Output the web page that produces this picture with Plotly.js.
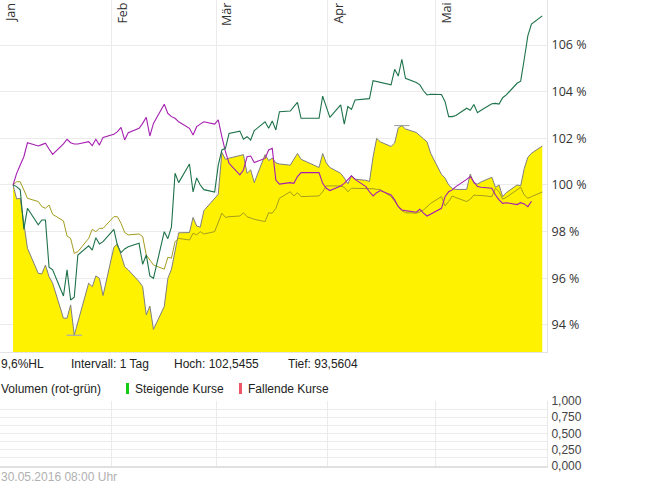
<!DOCTYPE html>
<html>
<head>
<meta charset="utf-8">
<script src="https://cdn.plot.ly/plotly-3.0.1.min.js"></script>
<style>
  html, body { margin: 0; padding: 0; background: #fff; }
  #chart { width: 645px; height: 483px; }
</style>
</head>
<body>
<div id="chart"></div>
<script>
// trading days Jan 4 - May 30 2016
const DAYS = [
  '2016-01-04','2016-01-05','2016-01-06','2016-01-07','2016-01-08','2016-01-11','2016-01-12','2016-01-13','2016-01-14','2016-01-15',
  '2016-01-18','2016-01-19','2016-01-20','2016-01-21','2016-01-22','2016-01-25','2016-01-26','2016-01-27','2016-01-28','2016-01-29',
  '2016-02-01','2016-02-02','2016-02-03','2016-02-04','2016-02-05','2016-02-08','2016-02-09','2016-02-10','2016-02-11','2016-02-12',
  '2016-02-15','2016-02-16','2016-02-17','2016-02-18','2016-02-19','2016-02-22','2016-02-23','2016-02-24','2016-02-25','2016-02-26','2016-02-29',
  '2016-03-01','2016-03-02','2016-03-03','2016-03-04','2016-03-07','2016-03-08','2016-03-09','2016-03-10','2016-03-11',
  '2016-03-14','2016-03-15','2016-03-16','2016-03-17','2016-03-18','2016-03-21','2016-03-22','2016-03-23','2016-03-24','2016-03-29','2016-03-30','2016-03-31',
  '2016-04-01','2016-04-04','2016-04-05','2016-04-06','2016-04-07','2016-04-08','2016-04-11','2016-04-12','2016-04-13','2016-04-14','2016-04-15',
  '2016-04-18','2016-04-19','2016-04-20','2016-04-21','2016-04-22','2016-04-25','2016-04-26','2016-04-27','2016-04-28','2016-04-29',
  '2016-05-02','2016-05-03','2016-05-04','2016-05-05','2016-05-06','2016-05-09','2016-05-10','2016-05-11','2016-05-12','2016-05-13',
  '2016-05-16','2016-05-17','2016-05-18','2016-05-19','2016-05-20','2016-05-23','2016-05-24','2016-05-25','2016-05-26','2016-05-27','2016-05-30'
];

// main series (yellow area), in % of start
const KURS = [
  100.00, 99.40, 99.43, 98.35, 97.29, 96.21, 96.19, 96.57, 96.07, 95.79, 94.29, 94.29, 94.86, 93.5604, 94.14, 95.79, 95.64, 96.10, 96.00, 95.26,
  97.33, 97.47, 97.00, 96.50, 96.36, 95.86, 95.64, 94.43, 94.81, 93.81, 94.79, 96.00, 96.39, 97.20, 97.95, 97.96, 98.61, 98.24, 98.19, 98.90, 99.40,
  99.60, 101.40, 101.10, 101.15, 101.25, 101.30, 100.50, 100.65, 100.10, 101.30, 101.05, 101.15, 100.95, 100.90, 100.85, 101.10, 101.35, 101.10, 100.75, 101.35, 100.95,
  100.75, 100.50, 100.30, 100.05, 100.40, 100.25, 100.20, 100.15, 101.20, 102.00, 101.85, 101.65, 101.80, 102.45, 102.5455, 102.40, 102.25, 102.10, 101.98, 101.85, 101.36,
  100.45, 100.30, 100.00, 99.85, 99.81, 99.81, 100.47, 100.07, 100.04, 100.13, 100.33, 99.90, 100.00, 99.50, 99.67, 100.00, 99.96, 100.71, 101.19, 101.36, 101.67
];

const GRUEN = [
  100.00, 99.93, 99.79, 98.10, 99.00, 98.29, 98.50, 98.50, 96.47, 96.36, 95.24, 96.36, 95.07, 95.19, 97.00, 97.39, 97.21, 97.74, 97.47, 97.57,
  98.10, 97.40, 97.10, 97.26, 97.35, 97.50, 96.60, 97.00, 96.10, 96.00, 98.00, 97.70, 98.20, 100.50, 100.10, 100.90, 99.70, 100.30, 100.00, 99.80, 99.70,
  100.85, 101.50, 101.57, 102.21, 102.31, 101.96, 102.07, 101.93, 102.33, 102.71, 102.43, 102.74, 102.36, 103.14, 103.17, 103.36, 103.54, 102.86, 102.86, 103.81, 103.36,
  102.90, 103.43, 102.61, 103.36, 103.24, 103.64, 103.67, 103.70, 104.47, 104.43, 104.39, 104.29, 104.96, 104.67, 105.39, 104.57, 104.39, 104.29, 104.04, 103.86, 103.89,
  103.88, 103.57, 102.93, 102.93, 102.98, 103.29, 103.20, 103.45, 103.10, 103.20, 103.48, 103.50, 103.47, 103.74, 103.86, 104.36, 104.45, 105.40, 106.40, 106.90, 107.25
];

const LILA = [
  100.00, 100.50, 100.86, 101.21, 101.81, 101.67, 101.73, 101.79, 101.54, 101.31, 101.76, 101.96, 101.81, 101.76, 101.76, 101.86, 101.69, 101.96, 101.71, 102.04,
  102.17, 102.29, 102.47, 101.93, 102.24, 102.43, 102.64, 102.90, 102.10, 102.64, 103.46, 103.07, 102.93, 102.86, 102.71, 102.43, 102.14, 102.50, 102.61, 102.71, 102.61,
  102.79, 102.07, 101.43, 100.93, 100.43, 100.64, 101.21, 101.24, 100.96, 101.14, 101.50, 101.57, 100.21, 100.04, 100.10, 100.07, 100.36, 100.53, 100.53, 100.07, 99.86,
  99.76, 99.96, 100.07, 100.24, 100.39, 100.24, 99.93, 99.71, 99.53, 99.67, 99.76, 99.57, 99.36, 99.07, 98.93, 98.90, 98.83, 98.96, 98.79, 98.67, 98.76,
  99.00, 99.50, 99.71, 99.79, 99.93, 100.24, 100.36, 100.14, 99.93, 99.90, 99.86, 99.57, 99.36, 99.21, 99.24, 99.16, 99.24, 99.19, 99.07, 99.30, null
];

const OLIV = [
  100.00, 100.14, 100.14, 99.79, 99.43, 99.29, 99.07, 99.00, 99.14, 98.74, 98.46, 97.81, 97.71, 97.07, 97.14, 97.71, 98.10, 98.00, 98.14, 98.14,
  98.64, 98.64, 98.36, 97.96, 97.86, 97.90, 97.79, 97.00, 96.79, 96.57, 96.39, 96.90, 96.86, 97.57, 97.71, 97.64, 97.93, 97.86, 98.00, 97.90, 98.00,
  98.40, 98.79, 98.61, 98.64, 98.67, 98.81, 98.64, 98.57, 98.53, 98.43, 98.81, 98.79, 99.00, 99.43, 99.71, 99.53, 99.67, 99.50, 99.53, 99.71, 99.96,
  99.96, 99.96, 99.90, 99.71, 99.86, 99.86, 99.86, 99.86, 99.84, 99.81, 99.81, 99.50, 99.29, 99.07, 98.90, 98.81, 98.79, 98.85, 98.93, 99.07, 99.21,
  99.50, 99.10, 99.29, 99.53, 99.46, 99.29, 99.39, 99.57, 99.55, 99.55, 99.50, 99.86, 99.71, 99.39, 99.47, 99.79, 99.90, 99.57, 99.43, 99.50, 99.70
];

const MONTHS = ['2016-01-01', '2016-02-01', '2016-03-01', '2016-04-01', '2016-05-01'];
const MONTH_LABELS = ['Jan', 'Feb', 'Mär', 'Apr', 'Mai'];
const PCT_TICKS = [94, 96, 98, 100, 102, 104, 106];
const PCT_LABELS = ['94 %', '96 %', '98 %', '100 %', '102 %', '104 %', '106 %'];
const INTERVALL = 'Intervall: 1 Tag';
const STAND = '30.05.2016 08:00 Uhr';

// points sit at mid-afternoon of each trading day
const X = DAYS.map(d => d + ' 15:00');
const XRANGE = ['2016-01-01', '2016-05-31 22:30'];

const hi = Math.max(...KURS);
const lo = Math.min(...KURS);
const hiIdx = KURS.indexOf(hi);
const loIdx = KURS.indexOf(lo);
const deNum = (v, n) => v.toFixed(n).replace('.', ',');

const PW = 547, H = 483;
const px = v => v / PW;
const py = v => 1 - v / H;
const GRID = '#ebebeb';

const traces = [
    {
        x: X, y: KURS, type: 'scatter', mode: 'lines', fill: 'tozeroy',
        fillcolor: '#fff200', line: { color: '#7f7f7f', width: 1 }
    },
    { x: X, y: OLIV, type: 'scatter', mode: 'lines', line: { color: '#a39d1f', width: 1 } },
    { x: X, y: LILA, type: 'scatter', mode: 'lines', line: { color: '#a51fb0', width: 1.1 } },
    { x: X, y: GRUEN, type: 'scatter', mode: 'lines', line: { color: '#1d7249', width: 1.1 } },
    {
        x: [X[hiIdx]], y: [hi], type: 'scatter', mode: 'markers',
        marker: { symbol: 'line-ew', size: 11, line: { width: 1, color: '#999' } }
    },
    {
        x: [X[loIdx]], y: [lo], type: 'scatter', mode: 'markers',
        marker: { symbol: 'line-ew', size: 11, line: { width: 1, color: '#9c9cd6' } }
    },
    // empty volume panel
    { x: [], y: [], type: 'scatter', xaxis: 'x2', yaxis: 'y2' }
];

const annotations = MONTHS.map((m, i) => ({
    x: m, xref: 'x', y: 1, yref: 'paper', text: MONTH_LABELS[i],
    textangle: -90, xanchor: 'left', yanchor: 'top', yshift: -1, showarrow: false,
    font: { family: 'Open Sans', size: 12.5, color: '#333' }
}));

const infoFont = { family: 'Liberation Sans', size: 12, color: '#222' };
const textAt = (x, y, text, font) => ({
    x: px(x), xref: 'paper', y: py(y), yref: 'paper', text: text,
    xanchor: 'left', yanchor: 'middle', showarrow: false, xshift: -1, font: font || infoFont
});
annotations.push(
    textAt(0, 364, deNum((hi - lo) / lo * 100, 1) + '%HL'),
    textAt(70, 364, INTERVALL),
    textAt(173, 364, 'Hoch: ' + deNum(hi, 4)),
    textAt(287, 364, 'Tief: ' + deNum(lo, 4)),
    textAt(0, 389, 'Volumen (rot-grün)'),
    textAt(134, 389, 'Steigende Kurse'),
    textAt(247, 389, 'Fallende Kurse'),
    textAt(0, 477, STAND, { family: 'Liberation Sans', size: 12, color: '#b0b0b0' })
);

const shapes = [
    { type: 'rect', xref: 'paper', yref: 'paper', x0: px(126), x1: px(129), y0: py(394), y1: py(383), fillcolor: '#11cc11', line: { width: 0 } },
    { type: 'rect', xref: 'paper', yref: 'paper', x0: px(239), x1: px(242), y0: py(394), y1: py(383), fillcolor: '#ee5566', line: { width: 0 } }
];

const layout = {
    width: 645, height: 483,
    margin: { l: 0, r: 98, t: 0, b: 0 },
    paper_bgcolor: '#fff', plot_bgcolor: '#fff',
    showlegend: false,
    separators: ',.',
    font: { family: 'Open Sans', size: 12, color: '#333' },
    xaxis: {
        type: 'date', range: XRANGE, tickvals: MONTHS, showticklabels: false, ticks: '',
        showgrid: true, gridcolor: GRID, zeroline: false, showline: true, linecolor: '#e3e3e3', anchor: 'y'
    },
    yaxis: {
        domain: [py(352), 1], range: [92.84, 107.93], side: 'right',
        tickvals: PCT_TICKS, ticktext: PCT_LABELS,
        showgrid: true, gridcolor: GRID, zeroline: false,
        showline: true, linecolor: '#e3e3e3', ticks: '', ticklabelstandoff: 1,
        tickfont: { family: 'Open Sans', size: 12.5, color: '#333' }
    },
    xaxis2: {
        type: 'date', range: XRANGE, tickvals: MONTHS, showticklabels: false, ticks: '',
        showgrid: true, gridcolor: GRID, zeroline: false, showline: true, linecolor: '#e0e0e0', linewidth: 2, anchor: 'y2'
    },
    yaxis2: {
        domain: [py(466), py(401)], range: [0, 1], side: 'right', anchor: 'x2',
        tick0: 0, dtick: 0.25, tickformat: '.3f', showgrid: true, gridcolor: GRID,
        minor: { dtick: 0.125, showgrid: true, gridcolor: GRID, ticks: '' },
        zeroline: false, showline: true, linecolor: '#e8e8e8', ticks: '', ticklabelstandoff: 1,
        tickfont: { family: 'Liberation Sans', size: 12, color: '#444' }
    },
    annotations: annotations,
    shapes: shapes
};

Plotly.newPlot('chart', traces, layout, { staticPlot: true, displayModeBar: false });
</script>
</body>
</html>
